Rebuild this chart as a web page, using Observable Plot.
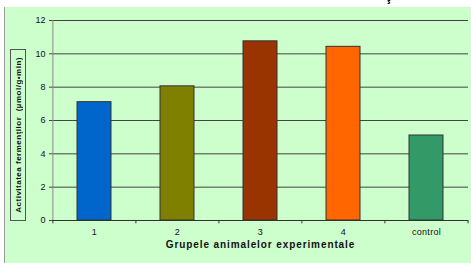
<!DOCTYPE html>
<html>
<head>
<meta charset="utf-8">
<script src="https://cdn.jsdelivr.net/npm/d3@7"></script>
<script src="https://cdn.jsdelivr.net/npm/@observablehq/plot@0.6"></script>
<style>
  html, body { margin: 0; padding: 0; background: #ffffff; width: 471px; height: 263px; overflow: hidden; }
  #bg { position: absolute; left: 4px; top: 7px; right: 0; bottom: 0; background: #CCFFCC; border-left: 1px solid #9a9a9a; }
  #chart { position: absolute; left: 0; top: 0; }
  #chart g[aria-label="text"] text { letter-spacing: 0.9px; }
  #chart g[aria-label="x-axis tick label"] text { letter-spacing: 0.3px; }
  #ylab { position: absolute; left: 10px; top: 49px; width: 16px; height: 172px; border: 1px solid #555;
          display: flex; align-items: center; justify-content: center; box-sizing: border-box; }
  #ylab span { writing-mode: vertical-rl; transform: rotate(180deg); font: bold 8px "Liberation Sans", Arial, sans-serif; letter-spacing: 0.5px; white-space: nowrap; color: #111; }
  #toptitle { position: absolute; left: 386px; top: -11px; font: bold 13px "Liberation Sans", Arial, sans-serif; color: #000; }
</style>
</head>
<body>
<div id="bg"></div>
<div id="toptitle">ţ</div>
<div id="chart"></div>
<div id="ylab"><span>Activitatea fermenţilor&nbsp;&nbsp;(µmol/g•min)</span></div>
<script>
const groups = ["1", "2", "3", "4", "control"];
const values = [7.1, 8.05, 10.75, 10.42, 5.1];
const colors = ["#0066CC", "#808000", "#993300", "#FF6600", "#339966"];
const yTicks = [0, 2, 4, 6, 8, 10, 12];
const xTitle = "Grupele animalelor experimentale";

const data = groups.map((g, i) => ({group: g, value: values[i], color: colors[i]}));
const W = 471, H = 263, mL = 52, mR = 3;
const step = (W - mL - mR) / groups.length;
const font = "'Liberation Sans', Arial, sans-serif";

const plot = Plot.plot({
  width: W, height: H,
  marginLeft: mL, marginRight: mR, marginTop: 20, marginBottom: 43,
  style: {background: "transparent", fontFamily: font, fontSize: "9px", color: "#111"},
  x: {domain: groups, paddingInner: 0.59, paddingOuter: 0.295},
  y: {domain: [0, 12]},
  color: {type: "identity"},
  marks: [
    Plot.gridY(yTicks, {stroke: "#444", strokeOpacity: 1}),
    Plot.ruleX([groups[0]], {dx: -step / 2, y1: 0, y2: 12, stroke: "#8a8a8a"}),
    Plot.axisY({ticks: yTicks, tickSize: 3, tickPadding: 4, stroke: "#444", fontSize: 9, label: null}),
    Plot.barY(data, {x: "group", y: "value", fill: "color", stroke: "#333", strokeWidth: 1}),
    Plot.ruleY([0], {stroke: "#333"}),
    Plot.ruleX(groups, {x: d => d, dx: -step / 2, y1: 0, y2: -0.2, stroke: "#333"}),
    Plot.ruleX([groups[groups.length - 1]], {dx: step / 2, y1: 0, y2: -0.2, stroke: "#333"}),
    Plot.axisX({tickSize: 0, tickPadding: 8, fontSize: 9, label: null}),
    Plot.text([xTitle], {frameAnchor: "bottom", dy: 27, text: d => d, fontWeight: "bold", fontSize: 10, fill: "#111"})
  ]
});
document.getElementById("chart").appendChild(plot);
</script>
</body>
</html>
